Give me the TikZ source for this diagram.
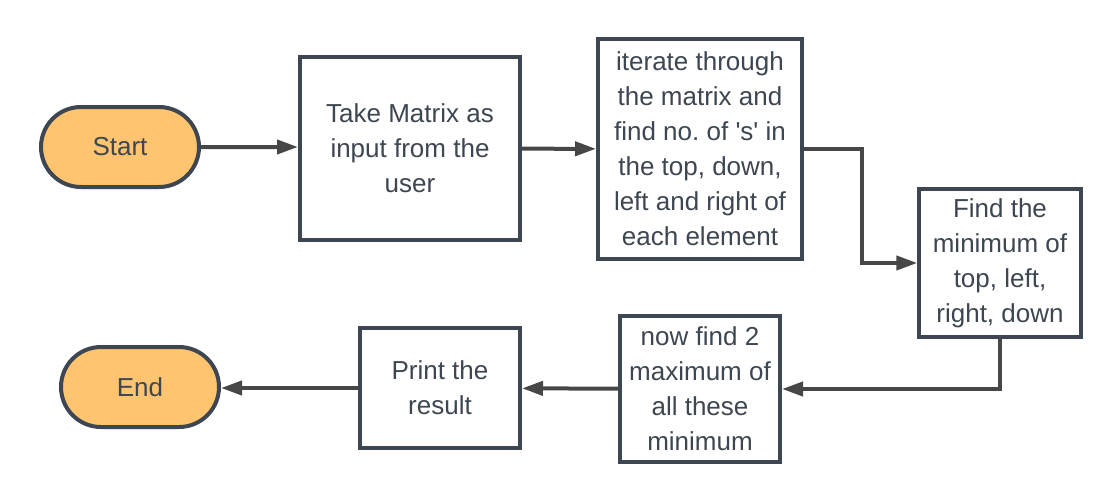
\documentclass[tikz,border=0pt]{standalone}
\usepackage{fontspec}
\setmainfont{Liberation Sans}
\usetikzlibrary{arrows.meta,shapes.misc}
\frenchspacing

\definecolor{edgegray}{HTML}{3D4651}
\definecolor{linkgray}{HTML}{474747}
\definecolor{termorange}{HTML}{FFC46F}

\tikzset{
  flowtext/.style={font=\fontsize{19.5}{26.25}\selectfont, text=edgegray, align=center, inner sep=0.75pt},
  termnode/.style={flowtext, rounded rectangle, draw=edgegray, line width=3pt, fill=termorange, minimum width=120pt, minimum height=60pt},
  procnode/.style={flowtext, rectangle, draw=edgegray, line width=3pt, fill=white},
  flowlink/.style={draw=linkgray, line width=3pt, -{Triangle[length=15.75pt,width=10.5pt]}},
}

\begin{document}
\begin{tikzpicture}[x=0.75pt,y=0.75pt,yscale=-1,xscale=1]
        \useasboundingbox (0,0) rectangle (1120,503);

        % Terminals
        \node [termnode] (start) at (120,147) {Start};
        \node [termnode] (end) at (140,387) {End};

        % Process boxes
        \node [procnode, minimum width=165pt, minimum height=137pt] (takeinput) at (410,148.5) {Take Matrix as\\input from the\\user};
        \node [procnode, minimum width=153pt, minimum height=165pt] (iterate) at (700,149) {iterate through\\the matrix and\\find no. of \textquotesingle s\textquotesingle{} in\\the top, down,\\left and right of\\each element};
        \node [procnode, minimum width=121pt, minimum height=111pt] (findmin) at (1000,263) {Find the\\minimum of\\top, left,\\right, down};
        \node [procnode, minimum width=120pt, minimum height=110pt] (findmax) at (700,389) {now find 2\\maximum of\\all these\\minimum};
        \node [procnode, minimum width=120pt, minimum height=90pt] (printres) at (440,388) {Print the\\result};

        % Connectors
        \draw [flowlink] (start) -- (start -| takeinput.west);
        \draw [flowlink] (takeinput) -- (iterate);
        \draw [flowlink] (iterate.east) -- ++(58,0) |- (findmin.west);
        \draw [flowlink] (findmin.south) |- (findmax.east);
        \draw [flowlink] (findmax) -- (printres);
        \draw [flowlink] (printres.west) -- (printres.west -| end.east);

    \end{tikzpicture}
\end{document}
